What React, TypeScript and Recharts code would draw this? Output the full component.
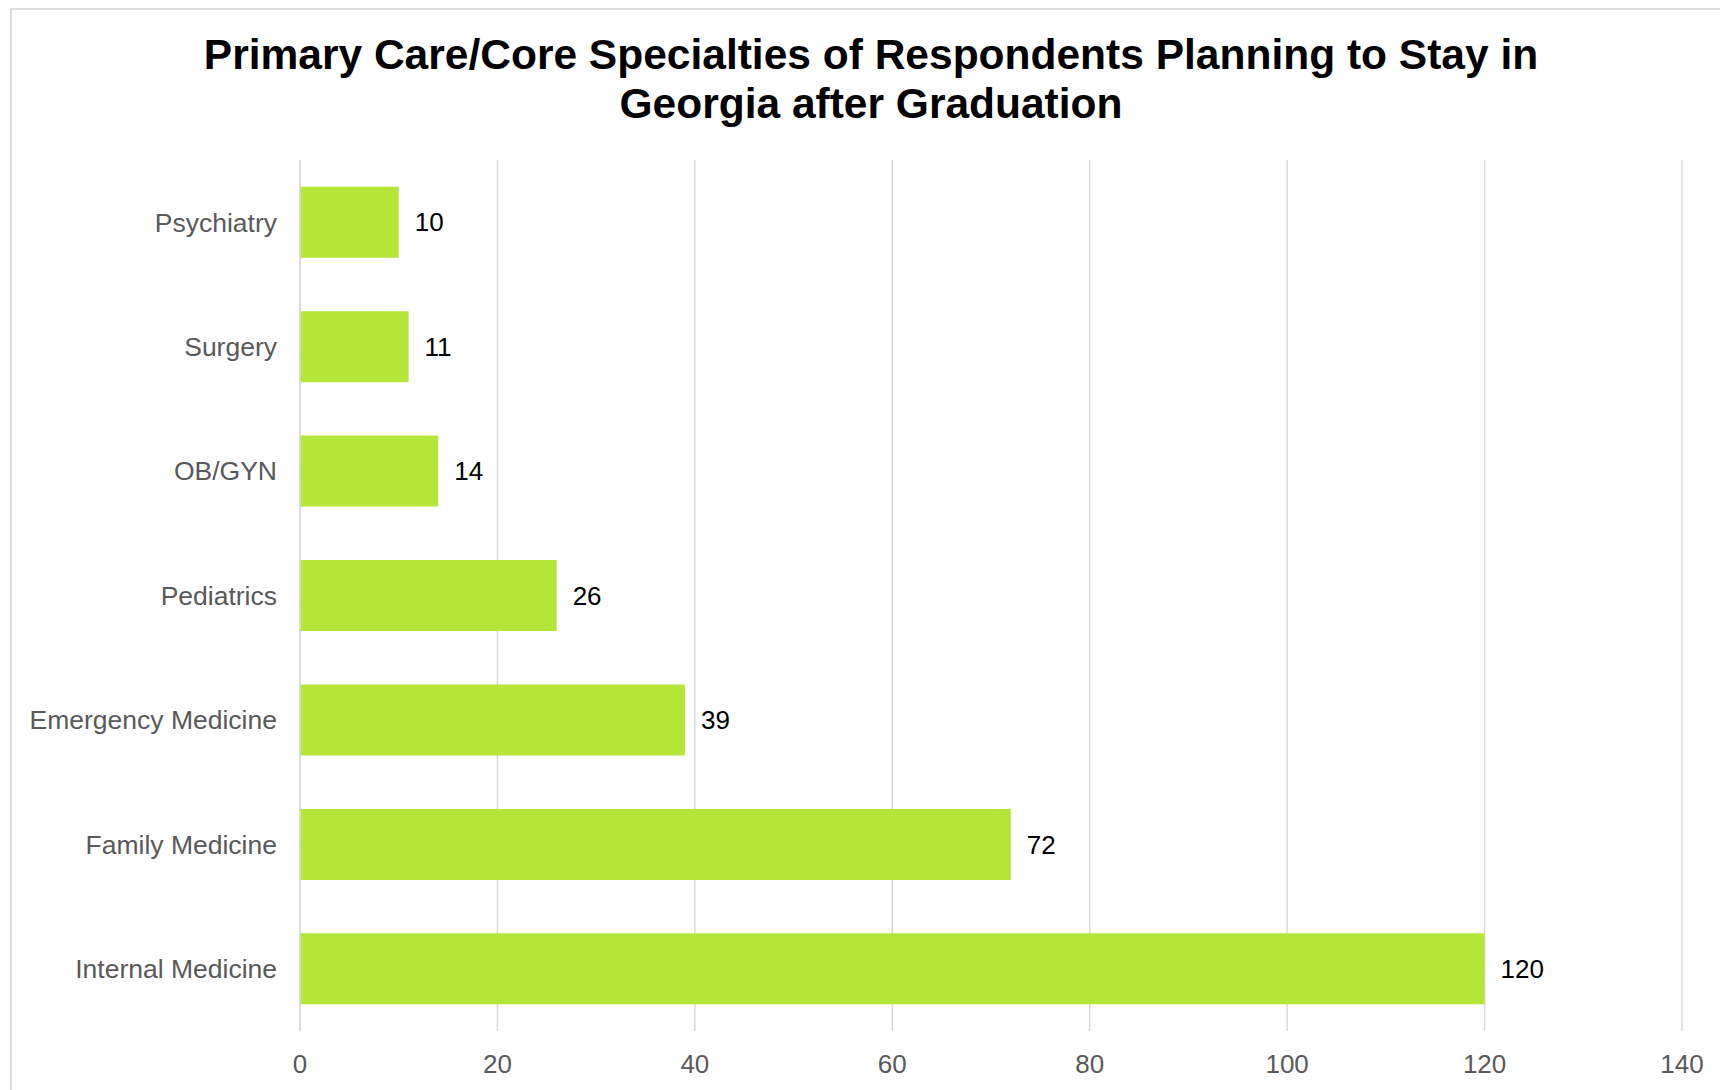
import React from "react";
import { BarChart, Bar, XAxis, YAxis, CartesianGrid, LabelList } from "recharts";

const categories = [
  "Psychiatry",
  "Surgery",
  "OB/GYN",
  "Pediatrics",
  "Emergency Medicine",
  "Family Medicine",
  "Internal Medicine",
];
const respondents = [10, 11, 14, 26, 39, 72, 120];
const xTicks = [0, 20, 40, 60, 80, 100, 120, 140];

const titleLine1 = "Primary Care/Core Specialties of Respondents Planning to Stay in";
const titleLine2 = "Georgia after Graduation";

const data = categories.map((name, i) => ({ name, value: respondents[i] }));

const FONT = "'Liberation Sans', Arial, sans-serif";

export default function App() {
  return (
    <div
      style={{
        position: "absolute",
        left: 0,
        top: 0,
        width: 1720,
        height: 1090,
        overflow: "hidden",
        background: "#ffffff",
        fontFamily: FONT,
      }}
    >
      <div
        style={{
          position: "absolute",
          left: 10,
          top: 8,
          width: 1740,
          height: 1120,
          borderLeft: "2px solid #dcdcdc",
          borderTop: "2px solid #dcdcdc",
          boxSizing: "border-box",
        }}
      />
      <div
        style={{
          position: "absolute",
          left: 10,
          top: 30,
          width: 1722,
          textAlign: "center",
          fontSize: 42.5,
          fontWeight: "bold",
          lineHeight: "49px",
          color: "#000000",
          whiteSpace: "nowrap",
        }}
      >
        <div>{titleLine1}</div>
        <div>{titleLine2}</div>
      </div>
      <div style={{ position: "absolute", left: 0, top: 0 }}>
        <BarChart
          width={1720}
          height={1090}
          data={data}
          layout="vertical"
          margin={{ top: 160, right: 38, bottom: 0, left: 10 }}
          barCategoryGap="21.5%"
          style={{ fontFamily: FONT }}
        >
          <CartesianGrid horizontal={false} vertical={true} stroke="#d9d9d9" strokeWidth={1.5} />
          <XAxis
            type="number"
            domain={[0, 140]}
            ticks={xTicks}
            axisLine={false}
            tickLine={false}
            tickMargin={18}
            height={59}
            tick={{ fill: "#595959", fontSize: 26, fontFamily: FONT }}
            interval={0}
          />
          <YAxis
            type="category"
            dataKey="name"
            width={290}
            axisLine={{ stroke: "#d9d9d9", strokeWidth: 1.5 }}
            tickLine={false}
            tickMargin={17}
            interval={0}
            tick={{ fill: "#595959", fontSize: 26.5, fontFamily: FONT }}
          />
          <Bar dataKey="value" fill="#b3e639" isAnimationActive={false}>
            <LabelList
              dataKey="value"
              position="right"
              offset={16}
              fill="#000000"
              fontSize={26}
              fontFamily={FONT}
            />
          </Bar>
        </BarChart>
      </div>
    </div>
  );
}
